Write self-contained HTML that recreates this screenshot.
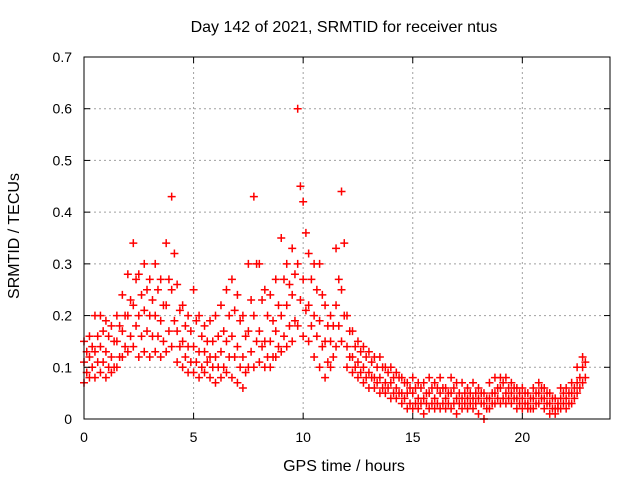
<!DOCTYPE html>
<html><head><meta charset="utf-8"><style>
html,body{margin:0;padding:0;background:#fff;}
svg{display:block;font-family:"Liberation Sans",sans-serif;}
</style></head><body>
<svg id="chart" width="640" height="480" viewBox="0 0 640 480" xmlns="http://www.w3.org/2000/svg">
<rect width="640" height="480" fill="#fff"/>
<g id="grid"></g>
<g id="marks"></g>
<g id="axes"></g>
<text x="344" y="32" font-size="16" text-anchor="middle">Day 142 of 2021, SRMTID for receiver ntus</text>
<text x="344" y="471" font-size="16" text-anchor="middle">GPS time / hours</text>
<text transform="translate(19,236) rotate(-90)" font-size="16" text-anchor="middle">SRMTID / TECUs</text>
</svg>
<script>
const xTicks=[0,5,10,15,20];
const yTicks=[0,0.1,0.2,0.3,0.4,0.5,0.6,0.7];
const yTickLabels=["0","0.1","0.2","0.3","0.4","0.5","0.6","0.7"];
const hourStep=0.25;
const upper=[.15,.16,.2,.2,.19,.18,.2,.24,.28,.34,.28,.3,.27,.3,.27,.34,.43,.26,.22,.2,.25,.2,.18,.19,.2,.22,.25,.27,.24,.2,.3,.43,.3,.25,.24,.27,.35,.3,.33,.6,.42,.32,.3,.3,.22,.2,.33,.44,.2,.17,.15,.14,.13,.12,.12,.1,.1,.09,.08,.07,.08,.07,.07,.08,.07,.08,.06,.08,.07,.07,.06,.07,.06,.05,.07,.08,.08,.08,.07,.06,.06,.05,.06,.07,.06,.05,.04,.06,.06,.07,.1,.12];
const upperMid=[.13,.14,.16,.17,.16,.15,.18,.2,.23,.27,.24,.25,.23,.25,.22,.27,.32,.21,.18,.17,.19,.16,.15,.15,.16,.17,.2,.21,.19,.16,.23,.3,.23,.2,.19,.22,.27,.26,.28,.45,.36,.27,.25,.24,.18,.18,.27,.34,.17,.14,.13,.12,.11,.1,.1,.09,.08,.08,.07,.06,.06,.06,.05,.06,.06,.06,.05,.06,.05,.05,.05,.05,.05,.04,.05,.06,.07,.06,.06,.05,.05,.04,.05,.06,.05,.04,.03,.05,.05,.06,.08,.11];
const middle=[.11,.12,.13,.14,.13,.12,.15,.17,.2,.22,.2,.21,.2,.2,.19,.22,.25,.17,.15,.14,.14,.13,.13,.12,.12,.13,.15,.16,.14,.12,.17,.2,.17,.15,.15,.17,.2,.22,.24,.3,.27,.22,.2,.19,.15,.15,.22,.25,.14,.12,.11,.1,.09,.08,.08,.07,.07,.06,.05,.05,.05,.04,.04,.05,.04,.05,.04,.05,.04,.04,.04,.04,.04,.03,.04,.05,.06,.05,.05,.04,.04,.03,.04,.05,.04,.03,.02,.04,.04,.05,.07,.1];
const lowerMid=[.09,.1,.11,.11,.1,.1,.12,.14,.16,.18,.16,.17,.16,.16,.15,.17,.19,.14,.12,.11,.11,.1,.11,.1,.1,.1,.12,.12,.1,.09,.13,.15,.14,.12,.12,.14,.16,.18,.19,.23,.21,.18,.16,.14,.11,.12,.18,.2,.12,.1,.09,.08,.08,.07,.06,.06,.05,.05,.04,.03,.03,.03,.03,.03,.03,.03,.03,.03,.03,.03,.03,.03,.03,.02,.03,.04,.04,.04,.04,.03,.03,.02,.03,.04,.03,.02,.02,.03,.03,.04,.06,.08];
const lower=[.07,.08,.08,.09,.08,.09,.1,.12,.13,.14,.12,.13,.12,.13,.12,.13,.14,.11,.1,.09,.09,.08,.09,.08,.07,.08,.09,.08,.07,.06,.1,.1,.11,.1,.1,.12,.13,.14,.15,.18,.16,.15,.12,.1,.08,.1,.14,.15,.1,.09,.08,.07,.06,.06,.05,.05,.04,.04,.03,.02,.02,.02,.01,.02,.02,.02,.02,.02,.01,.02,.02,.02,.01,0,.02,.03,.03,.03,.03,.02,.02,.02,.02,.03,.02,.01,.01,.02,.02,.03,.05,.07];
const X0=84,X1=610,Y0=419,Y1=57;
function xs(h){return X0+h/24*(X1-X0);}
function ys(v){return Y0-v/0.7*(Y0-Y1);}
const NS="http://www.w3.org/2000/svg";
function mk(tag,attrs,parent){const e=document.createElementNS(NS,tag);for(const k in attrs)e.setAttribute(k,attrs[k]);parent.appendChild(e);return e;}
const grid=document.getElementById('grid'),axes=document.getElementById('axes'),marks=document.getElementById('marks');
xTicks.forEach(t=>{const x=xs(t);
 if(t>0){const g=mk('line',{x1:x,x2:x,y1:Y1,y2:Y0,stroke:'#a0a0a0','stroke-dasharray':'2,3'},grid);
 }
 mk('line',{x1:x,x2:x,y1:Y0,y2:Y0-6,stroke:'#000'},axes);
 mk('line',{x1:x,x2:x,y1:Y1,y2:Y1+6,stroke:'#000'},axes);
 const l=mk('text',{x:x,y:Y0+23,'font-size':14,'text-anchor':'middle'},axes);l.textContent=t;
 });
yTicks.forEach((t,i)=>{const y=ys(t);
 if(i>0&&i<yTicks.length-1){const g=mk('line',{x1:X0,x2:X1,y1:y,y2:y,stroke:'#a0a0a0','stroke-dasharray':'2,3'},grid);
 }
 mk('line',{x1:X0,x2:X0+6,y1:y,y2:y,stroke:'#000'},axes);
 mk('line',{x1:X1,x2:X1-6,y1:y,y2:y,stroke:'#000'},axes);
 const l=mk('text',{x:X0-12,y:y+5,'font-size':14,'text-anchor':'end'},axes);l.textContent=yTickLabels[i];
 });
const box=mk('rect',{x:X0,y:Y1,width:X1-X0,height:Y0-Y1,fill:'none',stroke:'#000'},axes);

function plus(h,v){const x=xs(h),y=ys(v);
 const p=mk('path',{d:`M${x-4},${y}h8M${x},${y-4}v8`,stroke:'#ff0000','stroke-width':1.5,fill:'none'},marks);
 }
[upper,middle,lower].forEach(s=>s.forEach((v,i)=>plus(i*hourStep,v)));
[upperMid,lowerMid].forEach(s=>s.forEach((v,i)=>plus(i*hourStep+hourStep/2,v)));
</script>
</body></html>
